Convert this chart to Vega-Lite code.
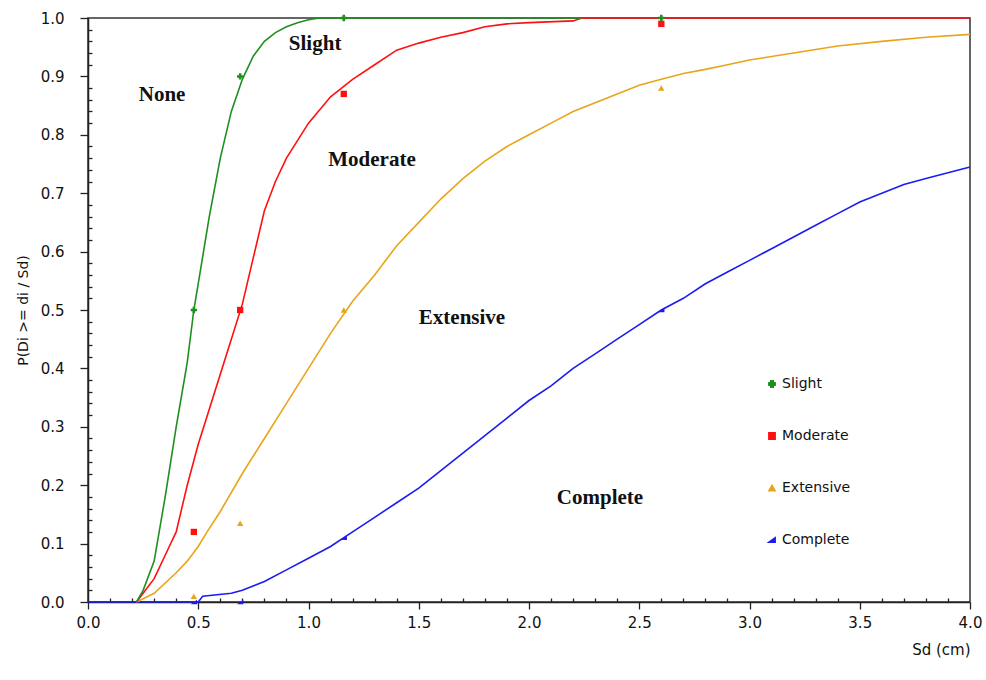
{
  "$schema": "https://vega.github.io/schema/vega-lite/v6.json",
  "width": 882,
  "height": 584,
  "autosize": {"type": "none"},
  "padding": {"left": 88, "top": 18, "right": 16, "bottom": 78},
  "background": "white",
  "config": {
    "view": {"stroke": "#333333", "strokeWidth": 1.5},
    "font": "DejaVu Sans",
    "axis": {"grid": false, "ticks": true, "tickWidth": 1.3, "labelFlush": false, "labelOverlap": false, "labelBound": false, "domainColor": "#222222", "domainWidth": 1.5, "tickColor": "#222222", "labelColor": "#111111", "titleColor": "#111111", "labelFont": "DejaVu Sans", "titleFont": "DejaVu Sans", "titleFontWeight": "normal"}
  },
  "datasets": {
    "curves": [
      {"x": 0, "p": 0, "state": "Complete"},
      {"x": 0.5, "p": 0, "state": "Complete"},
      {"x": 0.52, "p": 0.01, "state": "Complete"},
      {"x": 0.65, "p": 0.015, "state": "Complete"},
      {"x": 0.7, "p": 0.02, "state": "Complete"},
      {"x": 0.8, "p": 0.035, "state": "Complete"},
      {"x": 0.9, "p": 0.055, "state": "Complete"},
      {"x": 1.0, "p": 0.075, "state": "Complete"},
      {"x": 1.1, "p": 0.095, "state": "Complete"},
      {"x": 1.2, "p": 0.12, "state": "Complete"},
      {"x": 1.3, "p": 0.145, "state": "Complete"},
      {"x": 1.4, "p": 0.17, "state": "Complete"},
      {"x": 1.5, "p": 0.195, "state": "Complete"},
      {"x": 1.6, "p": 0.225, "state": "Complete"},
      {"x": 1.7, "p": 0.255, "state": "Complete"},
      {"x": 1.8, "p": 0.285, "state": "Complete"},
      {"x": 1.9, "p": 0.315, "state": "Complete"},
      {"x": 2.0, "p": 0.345, "state": "Complete"},
      {"x": 2.1, "p": 0.37, "state": "Complete"},
      {"x": 2.2, "p": 0.4, "state": "Complete"},
      {"x": 2.3, "p": 0.425, "state": "Complete"},
      {"x": 2.4, "p": 0.45, "state": "Complete"},
      {"x": 2.5, "p": 0.475, "state": "Complete"},
      {"x": 2.6, "p": 0.5, "state": "Complete"},
      {"x": 2.7, "p": 0.52, "state": "Complete"},
      {"x": 2.8, "p": 0.545, "state": "Complete"},
      {"x": 2.9, "p": 0.565, "state": "Complete"},
      {"x": 3.0, "p": 0.585, "state": "Complete"},
      {"x": 3.1, "p": 0.605, "state": "Complete"},
      {"x": 3.2, "p": 0.625, "state": "Complete"},
      {"x": 3.3, "p": 0.645, "state": "Complete"},
      {"x": 3.4, "p": 0.665, "state": "Complete"},
      {"x": 3.5, "p": 0.685, "state": "Complete"},
      {"x": 3.6, "p": 0.7, "state": "Complete"},
      {"x": 3.7, "p": 0.715, "state": "Complete"},
      {"x": 3.8, "p": 0.725, "state": "Complete"},
      {"x": 3.9, "p": 0.735, "state": "Complete"},
      {"x": 4.0, "p": 0.745, "state": "Complete"},
      {"x": 0.22, "p": 0, "state": "Extensive"},
      {"x": 0.3, "p": 0.015, "state": "Extensive"},
      {"x": 0.4, "p": 0.05, "state": "Extensive"},
      {"x": 0.45, "p": 0.07, "state": "Extensive"},
      {"x": 0.5, "p": 0.095, "state": "Extensive"},
      {"x": 0.54, "p": 0.12, "state": "Extensive"},
      {"x": 0.6, "p": 0.155, "state": "Extensive"},
      {"x": 0.7, "p": 0.22, "state": "Extensive"},
      {"x": 0.8, "p": 0.28, "state": "Extensive"},
      {"x": 0.9, "p": 0.34, "state": "Extensive"},
      {"x": 1.0, "p": 0.4, "state": "Extensive"},
      {"x": 1.1, "p": 0.46, "state": "Extensive"},
      {"x": 1.2, "p": 0.515, "state": "Extensive"},
      {"x": 1.3, "p": 0.56, "state": "Extensive"},
      {"x": 1.4, "p": 0.61, "state": "Extensive"},
      {"x": 1.5, "p": 0.65, "state": "Extensive"},
      {"x": 1.6, "p": 0.69, "state": "Extensive"},
      {"x": 1.7, "p": 0.725, "state": "Extensive"},
      {"x": 1.8, "p": 0.755, "state": "Extensive"},
      {"x": 1.9, "p": 0.78, "state": "Extensive"},
      {"x": 2.0, "p": 0.8, "state": "Extensive"},
      {"x": 2.1, "p": 0.82, "state": "Extensive"},
      {"x": 2.2, "p": 0.84, "state": "Extensive"},
      {"x": 2.3, "p": 0.855, "state": "Extensive"},
      {"x": 2.4, "p": 0.87, "state": "Extensive"},
      {"x": 2.5, "p": 0.885, "state": "Extensive"},
      {"x": 2.6, "p": 0.895, "state": "Extensive"},
      {"x": 2.7, "p": 0.905, "state": "Extensive"},
      {"x": 2.8, "p": 0.912, "state": "Extensive"},
      {"x": 2.9, "p": 0.92, "state": "Extensive"},
      {"x": 3.0, "p": 0.928, "state": "Extensive"},
      {"x": 3.2, "p": 0.94, "state": "Extensive"},
      {"x": 3.4, "p": 0.952, "state": "Extensive"},
      {"x": 3.6, "p": 0.96, "state": "Extensive"},
      {"x": 3.8, "p": 0.967, "state": "Extensive"},
      {"x": 4.0, "p": 0.972, "state": "Extensive"},
      {"x": 0.22, "p": 0, "state": "Moderate"},
      {"x": 0.25, "p": 0.015, "state": "Moderate"},
      {"x": 0.3, "p": 0.04, "state": "Moderate"},
      {"x": 0.35, "p": 0.08, "state": "Moderate"},
      {"x": 0.4, "p": 0.12, "state": "Moderate"},
      {"x": 0.45, "p": 0.2, "state": "Moderate"},
      {"x": 0.5, "p": 0.27, "state": "Moderate"},
      {"x": 0.55, "p": 0.33, "state": "Moderate"},
      {"x": 0.6, "p": 0.39, "state": "Moderate"},
      {"x": 0.65, "p": 0.45, "state": "Moderate"},
      {"x": 0.7, "p": 0.51, "state": "Moderate"},
      {"x": 0.75, "p": 0.59, "state": "Moderate"},
      {"x": 0.8, "p": 0.67, "state": "Moderate"},
      {"x": 0.85, "p": 0.72, "state": "Moderate"},
      {"x": 0.9, "p": 0.76, "state": "Moderate"},
      {"x": 0.95, "p": 0.79, "state": "Moderate"},
      {"x": 1.0, "p": 0.82, "state": "Moderate"},
      {"x": 1.1, "p": 0.865, "state": "Moderate"},
      {"x": 1.2, "p": 0.895, "state": "Moderate"},
      {"x": 1.3, "p": 0.92, "state": "Moderate"},
      {"x": 1.4, "p": 0.945, "state": "Moderate"},
      {"x": 1.5, "p": 0.957, "state": "Moderate"},
      {"x": 1.6, "p": 0.967, "state": "Moderate"},
      {"x": 1.7, "p": 0.975, "state": "Moderate"},
      {"x": 1.8, "p": 0.985, "state": "Moderate"},
      {"x": 1.9, "p": 0.99, "state": "Moderate"},
      {"x": 2.0, "p": 0.992, "state": "Moderate"},
      {"x": 2.2, "p": 0.995, "state": "Moderate"},
      {"x": 2.24, "p": 1.0, "state": "Moderate"},
      {"x": 4.0, "p": 1.0, "state": "Moderate"},
      {"x": 0.22, "p": 0, "state": "Slight"},
      {"x": 0.25, "p": 0.02, "state": "Slight"},
      {"x": 0.3, "p": 0.07, "state": "Slight"},
      {"x": 0.35, "p": 0.18, "state": "Slight"},
      {"x": 0.4, "p": 0.3, "state": "Slight"},
      {"x": 0.45, "p": 0.41, "state": "Slight"},
      {"x": 0.48, "p": 0.5, "state": "Slight"},
      {"x": 0.5, "p": 0.545, "state": "Slight"},
      {"x": 0.55, "p": 0.66, "state": "Slight"},
      {"x": 0.6, "p": 0.76, "state": "Slight"},
      {"x": 0.65, "p": 0.84, "state": "Slight"},
      {"x": 0.7, "p": 0.895, "state": "Slight"},
      {"x": 0.75, "p": 0.935, "state": "Slight"},
      {"x": 0.8, "p": 0.96, "state": "Slight"},
      {"x": 0.85, "p": 0.975, "state": "Slight"},
      {"x": 0.9, "p": 0.985, "state": "Slight"},
      {"x": 0.95, "p": 0.992, "state": "Slight"},
      {"x": 1.0, "p": 0.997, "state": "Slight"},
      {"x": 1.05, "p": 1.0, "state": "Slight"},
      {"x": 2.24, "p": 1.0, "state": "Slight"}
    ],
    "pts": [
      {"x": 0.48, "p": 0.0, "state": "Complete"},
      {"x": 0.69, "p": 0.0, "state": "Complete"},
      {"x": 1.16, "p": 0.11, "state": "Complete"},
      {"x": 2.6, "p": 0.5, "state": "Complete"},
      {"x": 0.48, "p": 0.01, "state": "Extensive"},
      {"x": 0.69, "p": 0.135, "state": "Extensive"},
      {"x": 1.16, "p": 0.5, "state": "Extensive"},
      {"x": 2.6, "p": 0.88, "state": "Extensive"},
      {"x": 0.48, "p": 0.12, "state": "Moderate"},
      {"x": 0.69, "p": 0.5, "state": "Moderate"},
      {"x": 1.16, "p": 0.87, "state": "Moderate"},
      {"x": 2.6, "p": 0.99, "state": "Moderate"},
      {"x": 0.48, "p": 0.5, "state": "Slight"},
      {"x": 0.69, "p": 0.9, "state": "Slight"},
      {"x": 1.16, "p": 1.0, "state": "Slight"},
      {"x": 2.6, "p": 1.0, "state": "Slight"}
    ],
    "labels": [
      {"x": 0.336, "p": 0.868, "text": "None"},
      {"x": 1.03, "p": 0.955, "text": "Slight"},
      {"x": 1.288, "p": 0.757, "text": "Moderate"},
      {"x": 1.696, "p": 0.486, "text": "Extensive"},
      {"x": 2.322, "p": 0.178, "text": "Complete"}
    ]
  },
  "layer": [
    {
      "data": {"name": "curves"},
      "mark": {"type": "line", "strokeWidth": 1.6, "interpolate": "linear"},
      "encoding": {
        "x": {"field": "x", "type": "quantitative", "scale": {"domain": [0, 4], "nice": false},
          "axis": {"orient": "bottom", "tickCount": 500,
            "values": [0, 0.1, 0.2, 0.3, 0.4, 0.5, 0.6, 0.7, 0.8, 0.9, 1, 1.1, 1.2, 1.3, 1.4, 1.5, 1.6, 1.7, 1.8, 1.9, 2, 2.1, 2.2, 2.3, 2.4, 2.5, 2.6, 2.7, 2.8, 2.9, 3, 3.1, 3.2, 3.3, 3.4, 3.5, 3.6, 3.7, 3.8, 3.9, 4],
            "labelExpr": "abs(datum.value*2 - round(datum.value*2)) < 0.001 ? format(datum.value, '.1f') : ''",
            "tickSize": {"condition": {"test": "abs(datum.value*2 - round(datum.value*2)) < 0.001", "value": 7}, "value": -4},
            "labelPadding": 6, "labelFontSize": 15, "title": "Sd (cm)", "titleFontSize": 15, "titleAnchor": "end", "titlePadding": 12}},
        "y": {"field": "p", "type": "quantitative", "scale": {"domain": [0, 1], "nice": false},
          "axis": {"orient": "left", "tickCount": 500,
            "values": [0, 0.02, 0.04, 0.06, 0.08, 0.1, 0.12, 0.14, 0.16, 0.18, 0.2, 0.22, 0.24, 0.26, 0.28, 0.3, 0.32, 0.34, 0.36, 0.38, 0.4, 0.42, 0.44, 0.46, 0.48, 0.5, 0.52, 0.54, 0.56, 0.58, 0.6, 0.62, 0.64, 0.66, 0.68, 0.7, 0.72, 0.74, 0.76, 0.78, 0.8, 0.82, 0.84, 0.86, 0.88, 0.9, 0.92, 0.94, 0.96, 0.98, 1],
            "labelExpr": "abs(datum.value*10 - round(datum.value*10)) < 0.001 ? format(datum.value, '.1f') : ''",
            "tickSize": {"condition": {"test": "abs(datum.value*10 - round(datum.value*10)) < 0.001", "value": 8}, "value": -4},
            "labelPadding": 16, "labelFontSize": 15, "title": "P(Di >= di / Sd)", "titleFontSize": 14, "titlePadding": 10}},
        "color": {"field": "state", "type": "nominal", "scale": {"domain": ["Slight", "Moderate", "Extensive", "Complete"], "range": ["#1f8f1f", "#ff1010", "#e8a519", "#1c1cf0"]}},
        "detail": {"field": "state"}
      }
    },
    {
      "data": {"name": "pts"},
      "mark": {"type": "point", "filled": true, "size": 40, "opacity": 1},
      "encoding": {
        "x": {"field": "x", "type": "quantitative"},
        "y": {"field": "p", "type": "quantitative"},
        "color": {"field": "state", "type": "nominal",
          "legend": {"orient": "none", "legendX": 677, "legendY": 359, "title": null, "labelFontSize": 14, "labelFont": "DejaVu Sans", "labelColor": "#111111", "rowPadding": 38, "symbolSize": 40, "labelOffset": 3}},
        "shape": {"field": "state", "type": "nominal",
          "scale": {"domain": ["Slight", "Moderate", "Extensive", "Complete"], "range": ["cross", "square", "triangle-up", "M-1,0.7L1,0.7L1,-0.7Z"]},
          "legend": {"orient": "none", "legendX": 677, "legendY": 359, "title": null, "labelFontSize": 14, "labelFont": "DejaVu Sans", "labelColor": "#111111", "rowPadding": 38, "symbolSize": 40, "labelOffset": 3}}
      }
    },
    {
      "data": {"name": "labels"},
      "mark": {"type": "text", "font": "Liberation Serif", "fontWeight": "bold", "fontSize": 21, "align": "center", "baseline": "middle", "color": "#111111"},
      "encoding": {
        "x": {"field": "x", "type": "quantitative"},
        "y": {"field": "p", "type": "quantitative"},
        "text": {"field": "text"}
      }
    }
  ]
}
